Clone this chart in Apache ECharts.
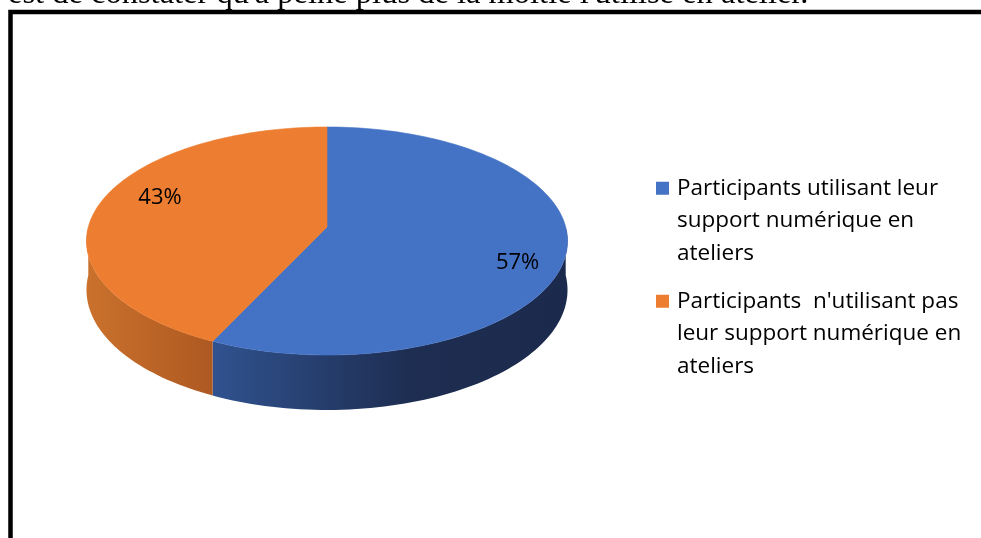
<!DOCTYPE html>
<html><head><meta charset="utf-8">
<script src="https://cdn.jsdelivr.net/npm/echarts@6/dist/echarts.min.js"></script>
<style>html,body{margin:0;padding:0;background:#fff;overflow:hidden;} #c{width:981px;height:538px;}</style>
</head><body><div id="c"></div>
<script>
// ---- data ----
const categories = [
  'Participants utilisant leur support numérique en ateliers',
  "Participants  n'utilisant pas leur support numérique en ateliers"
];
const values = [57, 43];
const percentLabels = ['57%', '43%'];
const legendLines = [
  ['Participants utilisant leur', 'support numérique en', 'ateliers'],
  ["Participants  n'utilisant pas", 'leur support numérique en', 'ateliers']
];
const headerText = "est de constater qu'à peine plus de la moitié l'utilise en atelier.";

// ---- style ----
const topColors = ['#4472C4', '#ED7D31'];
const sideStops = [
  [{offset: 0, color: '#30528F'}, {offset: 0.55, color: '#1E2E52'}, {offset: 1, color: '#1B2A4C'}],
  [{offset: 0, color: '#CA712C'}, {offset: 1, color: '#AE5922'}]
];
const labelNudge = [[5, 16], [11, -11]];
const PIE = {cx: 327, cy: 227, A: 238.7, B: 112.3, k: 0.1228, D: 48.2, labelR: 0.78};
const LEG = {lineH: 32.5, sq: 13, boxW: 16};

const total = values.reduce((a, b) => a + b, 0);
function proj(deg, r, h) {
  const t = deg * Math.PI / 180;
  const c = r * Math.cos(t), s = r * Math.sin(t);
  const d = 1 + PIE.k * s;
  return [PIE.cx + PIE.A * c / d, PIE.cy + (-PIE.B * s + PIE.D * h) / d];
}
function arc(a0, a1, r, h) {
  const n = Math.max(2, Math.ceil(Math.abs(a1 - a0) / 1.5));
  const pts = [];
  for (let i = 0; i <= n; i++) pts.push(proj(a0 + (a1 - a0) * i / n, r, h));
  return pts;
}
function sliceAngles(i) {
  let before = 0;
  for (let j = 0; j < i; j++) before += values[j];
  return [90 - before / total * 360, 90 - (before + values[i]) / total * 360];
}
function makeRender(i) {
  return function (params, api) {
    const v = api.value(0);
    const [a0, a1] = sliceAngles(i);
    const children = [];
    [[-180, 0], [180, 360], [-540, -360]].forEach(([lo, hi]) => {
      const s = Math.min(a0, hi), e = Math.max(a1, lo);
      if (s > e) {
        const topArc = arc(s, e, 1, 0);
        const botArc = arc(e, s, 1, 1);
        const xs = topArc.map(p => p[0]);
        children.push({
          type: 'polygon',
          shape: {points: topArc.concat(botArc)},
          style: {
            fill: new echarts.graphic.LinearGradient(Math.min(...xs), 0, Math.max(...xs), 0, sideStops[i], true),
            stroke: null
          }
        });
      }
    });
    const top = [proj(0, 0, 0)].concat(arc(a0, a1, 1, 0));
    children.push({
      type: 'polygon', shape: {points: top},
      style: {fill: topColors[i], stroke: topColors[i], lineWidth: 0.6}
    });
    const p = proj((a0 + a1) / 2, PIE.labelR, 0);
    children.push({
      type: 'text',
      x: p[0] + labelNudge[i][0], y: p[1] + labelNudge[i][1],
      style: {
        text: percentLabels[i], fill: '#000',
        font: '22px "Open Sans"', align: 'center', verticalAlign: 'middle'
      }
    });
    return {type: 'group', children};
  };
}

// legend icon: square at the top-left of a box two lines taller (and a bit wider),
// so it sits beside the first text line with the right gap
const iconH = LEG.sq + 2 * LEG.lineH;
const legendIcon = 'path://M0,0L' + LEG.sq + ',0L' + LEG.sq + ',' + LEG.sq + 'L0,' + LEG.sq + 'Z M0,' + iconH + 'L' + LEG.boxW + ',' + iconH + 'Z';

const chart = echarts.init(document.getElementById('c'), null, {renderer: 'canvas'});
chart.setOption({
  animation: false,
  color: topColors,
  graphic: [
    {
      type: 'text', left: 8, top: -22, z: 10,
      style: {text: headerText, font: '32.5px "Liberation Serif"', fill: '#000'}
    },
    {
      type: 'rect', shape: {x: 10.5, y: 12, width: 1200, height: 800},
      style: {fill: null, stroke: '#000', lineWidth: 4.5}, z: 10
    }
  ],
  legend: {
    orient: 'vertical', left: 651, top: 167,
    data: categories,
    icon: legendIcon, itemWidth: LEG.boxW, itemHeight: iconH, itemGap: 15.5,
    formatter: name => legendLines[categories.indexOf(name)].join('\n'),
    textStyle: {
      fontFamily: 'Open Sans', fontSize: 22.5, color: '#000',
      lineHeight: LEG.lineH
    },
    selectedMode: false
  },
  series: categories.map((name, i) => ({
    type: 'custom', name: name, coordinateSystem: 'none', silent: true,
    itemStyle: {color: topColors[i], borderWidth: 0},
    data: [values[i]],
    renderItem: makeRender(i)
  }))
});
</script>
</body></html>
